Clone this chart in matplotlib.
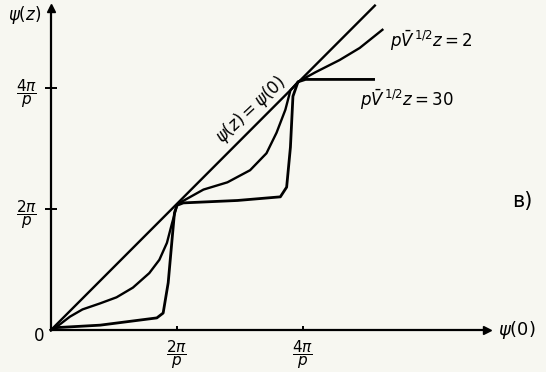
import matplotlib
matplotlib.use("Agg")
from matplotlib import pyplot as plt
import numpy as np

# psi(0) and psi(z) measured in units of 2*pi/p
diag_x = [0.0, 2.57]
diag_y = [0.0, 2.68]

# pV^(1/2) z = 2
smooth_x = [0.0, 0.05, 0.15, 0.25, 0.39, 0.52, 0.65, 0.78, 0.86, 0.92, 0.96, 1.0,
            1.02, 1.21, 1.40, 1.58, 1.71, 1.79, 1.86, 1.90, 1.96,
            2.10, 2.29, 2.45, 2.63]
smooth_y = [0.0, 0.03, 0.11, 0.17, 0.22, 0.27, 0.35, 0.47, 0.58, 0.72, 0.88, 1.03,
            1.05, 1.16, 1.22, 1.32, 1.46, 1.63, 1.82, 1.98, 2.05,
            2.13, 2.23, 2.33, 2.48]

# pV^(1/2) z = 30
step_x = [0.0, 0.05, 0.39, 0.84, 0.89, 0.93, 0.96, 0.98, 1.0,
          1.05, 1.48, 1.82, 1.87, 1.90, 1.92, 1.96,
          2.02, 2.29, 2.56]
step_y = [0.0, 0.02, 0.04, 0.10, 0.14, 0.39, 0.74, 0.97, 1.03,
          1.05, 1.07, 1.10, 1.18, 1.51, 1.93, 2.05,
          2.07, 2.07, 2.07]

tick_pos = [1, 2]
tick_labels = [r"$\dfrac{2\pi}{p}$", r"$\dfrac{4\pi}{p}$"]

W, H = 546, 372
fig = plt.figure(figsize=(W / 100, H / 100), dpi=100, facecolor="#f7f7f1")
ax = fig.add_axes([51 / W, (H - 330) / H, 436 / W, 322 / H])
ax.set_facecolor("#f7f7f1")
ax.set_xlim(0, 3.46)
ax.set_ylim(0, 2.66)

for s in ["top", "right"]:
    ax.spines[s].set_visible(False)
for s in ["left", "bottom"]:
    ax.spines[s].set_linewidth(1.6)

# arrow heads on the axes
ax.plot(1, 0, ">k", ms=6, transform=ax.transAxes, clip_on=False)
ax.plot(0, 1, "^k", ms=6, transform=ax.transAxes, clip_on=False)

lw = 1.7
ax.plot(diag_x, diag_y, color="k", lw=lw, solid_joinstyle="round", clip_on=False)
ax.plot(smooth_x, smooth_y, color="k", lw=lw, solid_joinstyle="round", clip_on=False)
ax.plot(step_x, step_y, color="k", lw=lw + 0.3, solid_joinstyle="round", clip_on=False)

ax.set_xticks(tick_pos)
ax.set_xticklabels(tick_labels, fontsize=11)
ax.set_yticks(tick_pos)
ax.set_yticklabels(tick_labels, fontsize=11)
ax.tick_params(axis="x", direction="in", length=3, width=1.4, pad=6)
ax.tick_params(axis="y", direction="inout", length=8, width=1.4, pad=6)

def ftext(px, py, s, **kw):
    fig.text(px / W, 1 - py / H, s, ha="center", va="center", **kw)

ftext(39, 336, "0", fontsize=12)
ftext(25, 15, r"$\psi(z)$", fontsize=12)
ftext(517, 330, r"$\psi(0)$", fontsize=13)
ftext(522, 201, "в)", fontsize=15)
ftext(431, 41, r"$p\bar{V}^{\,1/2}z = 2$", fontsize=12)
ftext(407, 100, r"$p\bar{V}^{\,1/2}z = 30$", fontsize=12)
ftext(251, 110, r"$\psi(z) = \psi(0)$", fontsize=12, rotation=43)

fig.savefig("out.png", dpi=100, facecolor=fig.get_facecolor())
